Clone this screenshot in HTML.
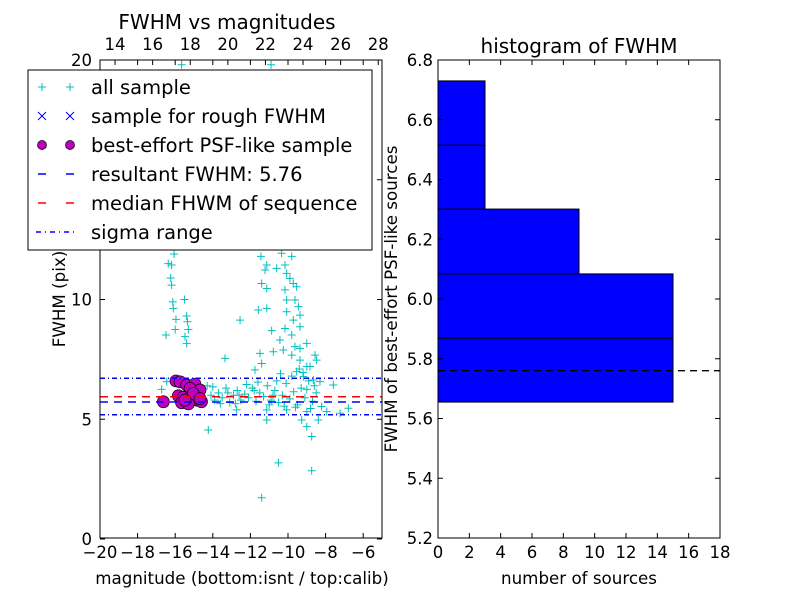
<!DOCTYPE html>
<html><head><meta charset="utf-8"><style>
body{margin:0;background:#fff}
svg text{font-family:"DejaVu Sans","Liberation Sans",sans-serif}
</style></head><body>
<svg id="c" width="800" height="600" xmlns="http://www.w3.org/2000/svg"></svg>
<script>
const allMag=[-16.06,-16.37,-16.19,-16.24,-16.19,-16.13,-16.1,-15.96,-16.0,-16.49,-15.51,-15.39,-15.3,-15.48,-15.39,-15.35,-15.66,-10.9,
-11.44,-11.13,-11.22,-11.4,-11.13,-11.58,-11.13,-12.55,-10.34,-9.8,-10.6,-10.16,-10.07,-9.9,-9.72,-10.16,-9.54,-10.07,-9.63,-9.45,-10.07,-9.36,-9.72,-10.16,-9.36,-9.8,-10.87,-10.43,-10.78,-10.25,-9.63,-9.36,-9.0,-9.8,-9.36,-9.0,-8.56,-8.48,-8.83,-11.49,-11.4,-11.76,-13.35,-9.54,-9.18,-8.65,-8.3,-7.59,
-14.24,-11.13,-9.27,-9.0,-8.74,-8.39,-7.94,-7.23,-6.79,-10.51,-8.74,-11.4,-12.73,-11.13,-10.07,-9.0,-8.21,-16.72,-16.45,
-14.3,-14.1,-13.9,-13.7,-13.5,-13.3,-13.1,-12.9,-12.7,-12.5,-12.3,-12.1,-11.9,-11.7,-11.5,-11.3,-11.1,-10.9,-10.7,-10.5,-10.3,-10.1,-9.9,-9.7,-9.5,-9.3,-9.1,-8.9,-8.7,-8.5,-14.0,-13.6,-12.8,-12.2,-11.6,-11.0,-10.6,-10.2,-9.8,-9.6,-9.2,-8.8,-10.4,-9.4,-11.8,-12.6,-13.2,-10.8,-9.0,-8.6,
-9.9,-9.6,-10.0,-9.7,-9.5,-9.8,-10.1,-9.4];
const allFwhm=[11.9,11.5,11.44,10.9,10.6,9.9,9.63,9.17,8.75,8.52,10.0,9.31,8.75,8.45,8.17,9.07,19.8,19.8,
11.8,11.44,11.23,10.67,10.46,9.56,9.63,9.14,11.93,11.8,11.3,11.44,11.09,10.88,10.67,10.4,10.53,9.98,9.98,9.7,9.49,9.35,9.14,8.79,8.86,8.52,8.7,8.31,7.82,7.89,8.03,7.96,8.17,7.68,7.47,7.2,7.68,7.47,7.2,7.75,7.33,7.06,7.54,6.99,6.78,6.64,6.57,6.43,
4.55,4.97,4.97,4.69,4.28,4.97,5.32,5.25,5.46,3.18,2.85,1.72,5.39,5.39,5.39,5.32,5.53,6.25,6.57,
6.4,6.0,5.8,6.1,5.9,6.3,5.7,6.0,6.2,5.8,6.05,5.9,6.3,5.75,6.1,5.95,6.4,5.8,6.2,5.7,6.0,6.5,5.85,6.15,5.6,6.3,5.9,6.6,5.75,6.1,6.35,5.65,5.65,6.45,6.55,5.6,6.6,5.55,6.8,5.5,6.95,5.45,6.9,7.1,6.2,6.0,6.1,6.0,6.25,6.4,
12.5,13.2,14.0,12.8,15.5,16.2,13.6,17.0];
const psfMag=[-16.63,-15.96,-15.74,-15.39,-14.95,-15.21,-14.68,-15.83,-15.57,-15.21,-14.86,-15.66,-15.3,-14.6,-15.04,-14.68,-15.48];
const psfFwhm=[5.73,6.6,6.56,6.43,6.47,6.29,6.22,5.98,5.92,5.92,5.8,5.69,5.64,5.73,6.08,5.86,5.8];
const resultFwhm=5.72, medianFwhm=5.94, sigmaLo=5.19, sigmaHi=6.71;
const binEdges=[5.655,5.869,6.084,6.301,6.515,6.730];
const binCounts=[15,15,9,3,3];
const histLine=5.76;
const xTicksL=[-20,-18,-16,-14,-12,-10,-8,-6];
const xTicksTop=[14,16,18,20,22,24,26,28];
const yTicksL=[0,5,10,15,20];
const xTicksR=[0,2,4,6,8,10,12,14,16,18];
const yTicksR=[5.2,5.4,5.6,5.8,6.0,6.2,6.4,6.6,6.8];
const calibOffset=33.2;

const S=document.getElementById('c');const NS='http://www.w3.org/2000/svg';
function el(t,a,p){const e=document.createElementNS(NS,t);for(const k in a)e.setAttribute(k,a[k]);(p||S).appendChild(e);return e;}
function tx(s,x,y,sz,anc,p){const e=el('text',{x:x,y:y,'font-size':sz,'text-anchor':anc||'middle'},p);e.textContent=s;return e;}
const TK=16.5, AX=16.7, TT=20;
const L={x0:100,x1:382,y0:60,y1:538};
const lx=v=>L.x0+(v+20)/15*(L.x1-L.x0);
const ly=v=>539-v*23.95;
const R={x0:438,x1:720,y0:60,y1:538};
const rx=v=>R.x0+v/18*(R.x1-R.x0);
const ry=v=>R.y1-(v-5.2)/1.6*(R.y1-R.y0);
const clipL=el('clipPath',{id:'cl'});el('rect',{x:L.x0,y:L.y0,width:L.x1-L.x0,height:L.y1-L.y0},clipL);
const gL=el('g',{'clip-path':'url(#cl)'});

for(let i=0;i<allMag.length;i++){const x=lx(allMag[i]),y=ly(allFwhm[i]);
 const p=el('path',{d:`M${x-4},${y}H${x+4}M${x},${y-4}V${y+4}`,stroke:'#00bfbf','stroke-width':1},gL);
 }
function hline(v,dash,col,name){const l=el('line',{x1:L.x0,x2:L.x1,y1:ly(v),y2:ly(v),stroke:col,'stroke-width':1.5,'stroke-dasharray':dash},gL);
 }
for(let i=0;i<psfMag.length;i++){const c=el('circle',{cx:lx(psfMag[i]),cy:ly(psfFwhm[i]),r:6,fill:'#bf00bf',stroke:'#000','stroke-width':0.7},gL);
 }
hline(resultFwhm,'8,6','#0000ff','resultant-fwhm-line');
hline(medianFwhm,'8,6','#ff0000','median-fwhm-line');
hline(sigmaLo,'5,3,1,3','#0000ff','sigma-low-line');
hline(sigmaHi,'5,3,1,3','#0000ff','sigma-high-line');
el('rect',{x:L.x0,y:L.y0,width:L.x1-L.x0,height:L.y1-L.y0,fill:'none',stroke:'#000'});
xTicksL.forEach(v=>{const x=lx(v);el('path',{d:`M${x},${L.y1}v-5M${x},${L.y0}v5`,stroke:'#000'});tx((v<0?'\u2212':'')+Math.abs(v),x,558,TK);});
xTicksTop.forEach(v=>{const x=lx(v-calibOffset);el('path',{d:`M${x},${L.y0}v5`,stroke:'#000'});tx(String(v),x,50,TK);});
yTicksL.forEach(v=>{const y=ly(v);el('path',{d:`M${L.x0},${y}h5M${L.x1},${y}h-5`,stroke:'#000'});tx(String(v),L.x0-8,y+6,TK,'end');});
tx('FWHM vs magnitudes',227,29,TT);
tx('magnitude (bottom:isnt / top:calib)',242,584,AX);
const yl=tx('FWHM (pix)',0,0,AX);yl.setAttribute('transform','translate(65,299) rotate(-90)');
const lg=el('g',{});
el('rect',{x:28,y:70,width:344,height:180,fill:'#fff',stroke:'#000','stroke-width':1},lg);
const rows=[['all sample','plus'],['sample for rough FWHM','x'],['best-effort PSF-like sample','o'],['resultant FWHM: 5.76','bdash'],['median FHWM of sequence','rdash'],['sigma range','dashdot']];
rows.forEach((r,i)=>{const y=87+i*29;const g=el('g',{},lg);
 [42,70].forEach(x=>{if(r[1]=='plus')el('path',{d:`M${x-4},${y}h8M${x},${y-4}v8`,stroke:'#00bfbf'},g);
  if(r[1]=='x')el('path',{d:`M${x-4},${y-4}l8,8M${x+4},${y-4}l-8,8`,stroke:'#0000ff'},g);
  if(r[1]=='o')el('circle',{cx:x,cy:y,r:4.5,fill:'#bf00bf',stroke:'#000','stroke-width':0.7},g);});
 if(r[1]=='bdash')el('line',{x1:38,x2:76,y1:y,y2:y,stroke:'#0000ff','stroke-width':1.5,'stroke-dasharray':'8,20'},g);
 if(r[1]=='rdash')el('line',{x1:38,x2:76,y1:y,y2:y,stroke:'#ff0000','stroke-width':1.5,'stroke-dasharray':'8,20'},g);
 if(r[1]=='dashdot')el('line',{x1:36,x2:76,y1:y,y2:y,stroke:'#0000ff','stroke-width':1.5,'stroke-dasharray':'5,4,1,4'},g);
 tx(r[0],91,y+7,19.5,'start',g);});
binCounts.forEach((c,i)=>{const b=el('rect',{x:rx(0),y:ry(binEdges[i+1]),width:rx(c)-rx(0),height:ry(binEdges[i])-ry(binEdges[i+1]),fill:'#0000ff',stroke:'#000','stroke-width':1});
 });
const hl=el('line',{x1:R.x0,x2:R.x1,y1:ry(histLine),y2:ry(histLine),stroke:'#000','stroke-width':1.3,'stroke-dasharray':'7,5'});

el('rect',{x:R.x0,y:R.y0,width:R.x1-R.x0,height:R.y1-R.y0,fill:'none',stroke:'#000'});
xTicksR.forEach(v=>{const x=rx(v);el('path',{d:`M${x},${R.y1}v-5M${x},${R.y0}v5`,stroke:'#000'});tx(String(v),x,558,TK);});
yTicksR.forEach(v=>{const y=ry(v);el('path',{d:`M${R.x0},${y}h5M${R.x1},${y}h-5`,stroke:'#000'});tx(v.toFixed(1),R.x0-5,y+6,TK,'end');});
tx('histogram of FWHM',579,53,TT);
tx('number of sources',579,584,AX);
const yr=tx('FWHM of best-effort PSF-like sources',0,0,AX);yr.setAttribute('transform','translate(397,299) rotate(-90)');
</script>
</body></html>
